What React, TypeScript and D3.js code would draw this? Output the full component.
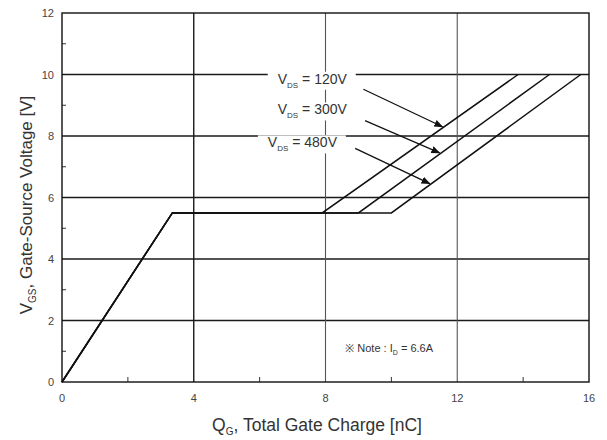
import React from "react";
import * as d3 from "d3";

// Gate charge characteristic: V_GS vs Q_G
const chargeRise = [0, 3.35];
const voltageRise = [0, 5.5];
const plateauVoltage = 5.5;
const seriesNames = ["120V", "300V", "480V"];
const plateauEnd = [7.9, 9.0, 10.0];
const finalCharge = [13.85, 14.8, 15.75];
const finalVoltage = 10;
const xTicks = [0, 4, 8, 12, 16];
const yTicks = [0, 2, 4, 6, 8, 10, 12];
const xMinor = [2, 6, 10, 14];
const yMinor = [1, 3, 5, 7, 9, 11];

const W = 607;
const H = 440;
const font = "'Liberation Sans', Arial, sans-serif";

export default function App() {
  const x = d3.scaleLinear().domain([0, 16]).range([62, 589]);
  const y = d3.scaleLinear().domain([0, 12]).range([382, 13]);
  const line = d3
    .line<[number, number]>()
    .x((d) => x(d[0]))
    .y((d) => y(d[1]));

  const curves = seriesNames.map((_, i) =>
    line([
      [chargeRise[0], voltageRise[0]],
      [chargeRise[1], voltageRise[1]],
      [plateauEnd[i], plateauVoltage],
      [finalCharge[i], finalVoltage],
    ])
  );

  // label positions (charge, voltage) and arrow targets on each curve
  const labelPos: [number, number][] = [
    [6.55, 9.7],
    [6.55, 8.7],
    [6.25, 7.63],
  ];
  const arrowFrom: [number, number][] = [
    [9.15, 9.52],
    [9.2, 8.5],
    [8.9, 7.6],
  ];
  const arrowV = [8.3, 7.45, 6.45];
  const arrowTo = arrowV.map((v, i) => {
    const t = (v - plateauVoltage) / (finalVoltage - plateauVoltage);
    return [plateauEnd[i] + t * (finalCharge[i] - plateauEnd[i]) - 0.05, v] as [number, number];
  });

  return (
    <svg width={W} height={H} style={{ position: "absolute", left: 0, top: 0, background: "#fff" }}>
      <defs>
        <marker id="ah" viewBox="0 0 10 10" refX="9" refY="5" markerWidth="7" markerHeight="7" orient="auto">
          <path d="M0,1 L10,5 L0,9 z" fill="#111" />
        </marker>
      </defs>
      <rect x={0} y={0} width={W} height={H} fill="#fff" />

      {/* horizontal grid */}
      {yTicks.slice(1, -1).map((t) => (
        <line key={"gy" + t} x1={x(0)} x2={x(16)} y1={y(t)} y2={y(t)} stroke="#1a1a1a" strokeWidth={1.4} />
      ))}
      {/* vertical grid */}
      {xTicks.slice(1, -1).map((t) => (
        <line
          key={"gx" + t}
          x1={x(t)}
          x2={x(t)}
          y1={y(0)}
          y2={y(12)}
          stroke={t === 4 ? "#1a1a1a" : "#555"}
          strokeWidth={t === 4 ? 1.4 : 1.1}
        />
      ))}
      {/* minor ticks */}
      {xMinor.map((t) => (
        <line key={"mx" + t} x1={x(t)} x2={x(t)} y1={y(0)} y2={y(0) - 5} stroke="#333" strokeWidth={1} />
      ))}
      {yMinor.map((t) => (
        <line key={"my" + t} x1={x(0)} x2={x(0) + 4} y1={y(t)} y2={y(t)} stroke="#333" strokeWidth={1} />
      ))}

      {/* frame */}
      <rect x={x(0)} y={y(12)} width={x(16) - x(0)} height={y(0) - y(12)} fill="none" stroke="#111" strokeWidth={1.4} />

      {/* curves */}
      {curves.map((d, i) => (
        <path key={"c" + i} d={d ?? ""} fill="none" stroke="#111" strokeWidth={1.5} />
      ))}

      {/* series labels with white backing */}
      {seriesNames.map((s, i) => {
        const lx = x(labelPos[i][0]);
        const ly = y(labelPos[i][1]);
        return (
          <g key={"l" + i}>
            <rect x={lx - 10} y={ly - 12} width={88} height={18} fill="#fff" />
            <text x={lx} y={ly} fontFamily={font} fontSize={14} fill="#333">
              V
              <tspan fontSize={8} dy={4}>
                DS
              </tspan>
              <tspan dy={-4}> = {s}</tspan>
            </text>
          </g>
        );
      })}
      {arrowFrom.map((f, i) => (
        <line
          key={"a" + i}
          x1={x(f[0])}
          y1={y(f[1])}
          x2={x(arrowTo[i][0])}
          y2={y(arrowTo[i][1])}
          stroke="#111"
          strokeWidth={1.3}
          markerEnd="url(#ah)"
        />
      ))}

      {/* note */}
      <text x={x(8.6)} y={y(0.97)} fontFamily={font} fontSize={11} fill="#333">
        ※ Note : I
        <tspan fontSize={7} dy={3}>
          D
        </tspan>
        <tspan dy={-3}> = 6.6A</tspan>
      </text>

      {/* tick labels */}
      {xTicks.map((t) => (
        <text key={"tx" + t} x={x(t)} y={y(0) + 20} textAnchor="middle" fontFamily={font} fontSize={11} fill="#444">
          {t}
        </text>
      ))}
      {yTicks.map((t) => (
        <text key={"ty" + t} x={x(0) - 8} y={y(t) + 4} textAnchor="end" fontFamily={font} fontSize={11} fill="#444">
          {t}
        </text>
      ))}

      {/* axis titles */}
      <text x={317} y={431} textAnchor="middle" fontFamily={font} fontSize={17.5} fill="#333">
        Q
        <tspan fontSize={10} dy={4}>
          G
        </tspan>
        <tspan dy={-4}>, Total Gate Charge [nC]</tspan>
      </text>
      <text
        transform={`translate(32, 205) rotate(-90)`}
        textAnchor="middle"
        fontFamily={font}
        fontSize={17}
        fill="#333"
      >
        V
        <tspan fontSize={10} dy={4}>
          GS
        </tspan>
        <tspan dy={-4}>, Gate-Source Voltage [V]</tspan>
      </text>
    </svg>
  );
}
